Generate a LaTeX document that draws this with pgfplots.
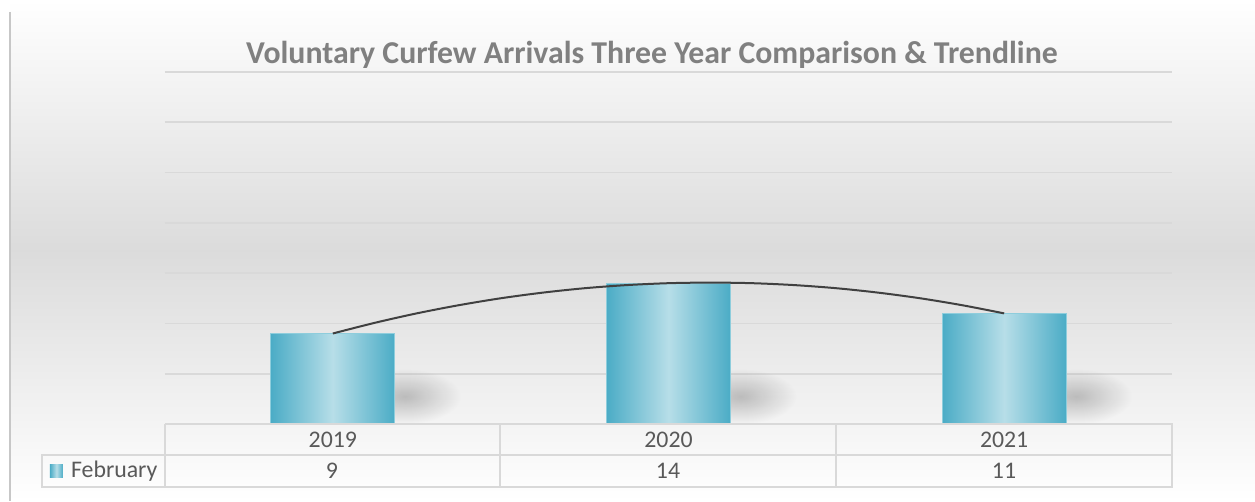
\documentclass[border=0pt]{standalone}
\usepackage{pgfplots}
\pgfplotsset{compat=1.18}
\usetikzlibrary{fadings}
\usepackage{fontspec}
\setmainfont{Carlito}
\definecolor{barD}{HTML}{4BACC6}
\definecolor{barL}{HTML}{B7DEE8}
\definecolor{barE}{HTML}{8ECDDC}
\definecolor{txt}{HTML}{595959}
\definecolor{ttl}{HTML}{808080}
\definecolor{grd}{HTML}{D9D9D9}
\tikzfading[name=softblob, inner color=transparent!0, outer color=transparent!100]
\begin{document}
\begin{tikzpicture}
\begin{scope}[x=0.5pt,y=-0.5pt,shift={(-82.5pt,212pt)}]
\fill[white] (0,0) rectangle (1255,501);
\shade[top color=white, bottom color=white, middle color=black!14] (11,0) rectangle (1255,501);
\draw[black!22, line width=0.8pt] (10,12) -- (10,501);
\node[font=\fontsize{15.9}{19}\selectfont\bfseries, text=ttl] at (652,55) {Voluntary Curfew Arrivals Three Year Comparison \& Trendline};
\end{scope}
\begin{axis}[at={(0,0)}, anchor=south west, scale only axis,
  width=503.5pt, height=176pt,
  xmin=-0.5, xmax=2.5, ymin=0, ymax=35,
  axis line style={draw=none},
  ytick={5,10,...,35}, yticklabels={},
  ymajorgrids, grid style={grd, line width=0.8pt},
  major tick length=0pt,
  xtick={0,1,2}, xticklabels={2019,2020,2021},
  x tick label style={anchor=center, yshift=-8pt, font=\fontsize{11.9}{14}\selectfont, text=txt},
  clip=false,
  shadowbar/.style={ybar, bar width=56pt, bar shift=36pt, draw=none, fill=black, fill opacity=0.22, path fading=softblob},
  bar/.style={ybar, bar width=62pt, bar shift=0pt, draw=barE, line width=0.4pt, left color=barD, right color=barD, middle color=barL}]
\addplot[shadowbar] coordinates {(0,5.5)};
\addplot[shadowbar] coordinates {(1,5.5)};
\addplot[shadowbar] coordinates {(2,5.5)};
\addplot[bar] coordinates {(0,9)};
\addplot[bar] coordinates {(1,14)};
\addplot[bar] coordinates {(2,11)};
\addplot[smooth, no marks, color=black!75, line width=1pt] coordinates {
(0,9) (0.125,10.06) (0.25,11.0) (0.375,11.81) (0.5,12.5) (0.625,13.06) (0.75,13.5) (0.875,13.81)
(1,14) (1.125,14.06) (1.25,14.0) (1.375,13.81) (1.5,13.5) (1.625,13.06) (1.75,12.5) (1.875,11.81) (2,11)};
\end{axis}
\begin{scope}[x=0.5pt,y=-0.5pt,shift={(-82.5pt,212pt)}]
\draw[grd, line width=0.8pt] (165,424) -- (1172,424) -- (1172,487) -- (42,487) -- (42,455) -- (1172,455);
\foreach \xx in {165,500,836} \draw[grd, line width=0.8pt] (\xx,424) -- (\xx,487);
\begin{scope}[every node/.style={font=\fontsize{11.9}{14}\selectfont, text=txt}]
\node at (332,471) {9};
\node at (668,471) {14};
\node at (1004,471) {11};
\node[anchor=west] at (64,471) {February};
\end{scope}
\shade[left color=barD, right color=barD, middle color=barL] (50,465) rectangle (63,478);
\end{scope}
\end{tikzpicture}
\end{document}
